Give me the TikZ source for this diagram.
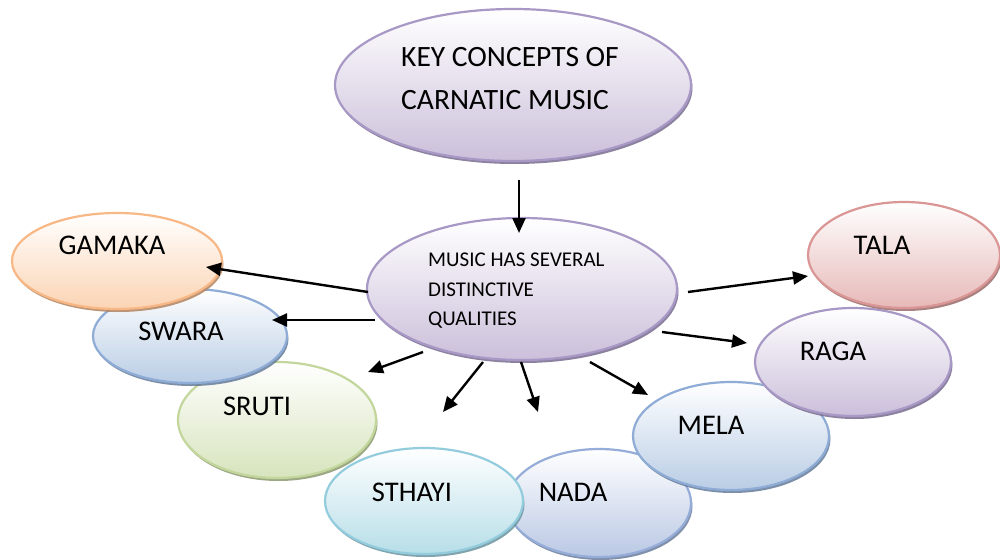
\documentclass[tikz,border=0pt]{standalone}
\usepackage{fontspec}
\setmainfont{Carlito}
\usetikzlibrary{shapes.geometric,arrows.meta,shadows}

\definecolor{purB}{HTML}{A898C6}
\definecolor{purF}{HTML}{CBBFDA}
\definecolor{oraB}{HTML}{F8B886}
\definecolor{oraF}{HTML}{FBD4B4}
\definecolor{bluB}{HTML}{8EACD6}
\definecolor{bluF}{HTML}{B9CDE5}
\definecolor{greB}{HTML}{C3D69B}
\definecolor{greF}{HTML}{D7E4BD}
\definecolor{redB}{HTML}{D99694}
\definecolor{redF}{HTML}{E6B9B8}
\definecolor{aquB}{HTML}{93CDDD}
\definecolor{aquF}{HTML}{B7DEE8}
\definecolor{nadB}{HTML}{95ADD8}
\definecolor{nadF}{HTML}{BAC8E4}

\tikzset{
  bubble/.style 2 args={ellipse, draw=#1, line width=2.2pt, top color=white,
    bottom color=#2, inner sep=0pt,
    general shadow={shadow xshift=1.5pt, shadow yshift=-3pt, fill=#1!72!black, opacity=0.85}},
  lbl/.style={inner sep=0pt, font=\fontsize{28.5}{34}\selectfont},
  conn/.style={line width=2.4pt, -{Triangle[length=15pt,width=13pt]}}
}

\begin{document}
\begin{tikzpicture}[x=1pt,y=-1pt]
\useasboundingbox (0,0) rectangle (1000,559);
\fill[white] (0,0) rectangle (1000,559);

% ellipses, back to front
\node[bubble={nadB}{nadF}, minimum width=184pt, minimum height=108pt] (nada) at (599,503) {};
\node[bubble={bluB}{bluF}, minimum width=196pt, minimum height=108pt] (mela) at (731,436) {};
\node[bubble={purB}{purF}, minimum width=196pt, minimum height=108pt] (raga) at (853,362) {};
\node[bubble={redB}{redF}, minimum width=192pt, minimum height=106pt] (tala) at (904,255) {};
\node[bubble={aquB}{aquF}, minimum width=198pt, minimum height=106pt] (sthayi) at (424,501) {};
\node[bubble={greB}{greF}, minimum width=198pt, minimum height=116pt] (sruti) at (277,420) {};
\node[bubble={bluB}{bluF}, minimum width=194pt, minimum height=94pt] (swara) at (190,336) {};
\node[bubble={oraB}{oraF}, minimum width=210pt, minimum height=96pt] (gamaka) at (117,261) {};
\node[bubble={purB}{purF}, minimum width=356pt, minimum height=152pt] (top) at (513,85) {};
\node[bubble={purB}{purF}, minimum width=310pt, minimum height=142pt] (mid) at (522,289) {};

% labels
\node[inner sep=0pt, anchor=north west, align=left, font=\fontsize{29.5}{43.5}\selectfont] (topT) at (401,47) {KEY CONCEPTS OF\\CARNATIC MUSIC};
\node[inner sep=0pt, anchor=north west, align=left, font=\fontsize{21}{29.5}\selectfont] (midT) at (428,253) {MUSIC HAS SEVERAL\\DISTINCTIVE\\QUALITIES};
\node[lbl] (gamakaT) at (112,245) {GAMAKA};
\node[lbl] (swaraT) at (181,331) {SWARA};
\node[lbl] (srutiT) at (257,406) {SRUTI};
\node[lbl] (talaT) at (882,245) {TALA};
\node[lbl] (ragaT) at (833,351) {RAGA};
\node[lbl] (melaT) at (711,425) {MELA};
\node[lbl] (sthayiT) at (412,492) {STHAYI};
\node[lbl] (nadaT) at (573,492) {NADA};

% connector ends
\coordinate (a0) at (519,180);  \coordinate (b0) at (519,233);
\coordinate (a1) at (368,292);  \coordinate (b1) at (206,267);
\coordinate (a2) at (375,320);  \coordinate (b2) at (272,320);
\coordinate (a3) at (423,352);  \coordinate (b3) at (368,372);
\coordinate (a4) at (483,362);  \coordinate (b4) at (443,412);
\coordinate (a5) at (521,362);  \coordinate (b5) at (538,412);
\coordinate (a6) at (590,362);  \coordinate (b6) at (648,395);
\coordinate (a7) at (662,332);  \coordinate (b7) at (747,343);
\coordinate (a8) at (688,292);  \coordinate (b8) at (808,276);

\draw[conn] (a0) -- (b0);
\draw[conn] (a1) -- (b1);
\draw[conn] (a2) -- (b2);
\draw[conn] (a3) -- (b3);
\draw[conn] (a4) -- (b4);
\draw[conn] (a5) -- (b5);
\draw[conn] (a6) -- (b6);
\draw[conn] (a7) -- (b7);
\draw[conn] (a8) -- (b8);
\end{tikzpicture}
\end{document}
